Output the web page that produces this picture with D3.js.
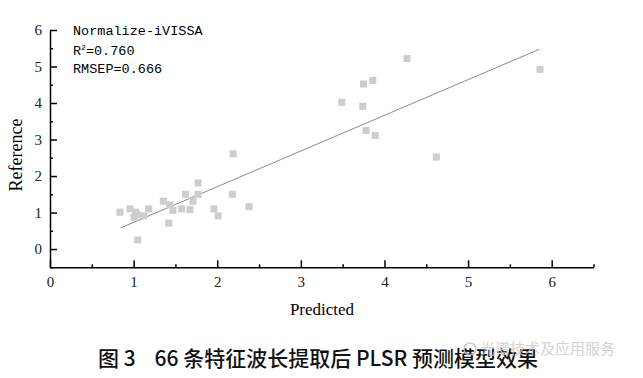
<!DOCTYPE html>
<meta charset="utf-8">
<head>
  <title>PLSR predicted vs reference</title>
</head>
<style>
  body { margin: 0; background: #fff; }
  .tick text { font-family: "Liberation Serif", serif; font-size: 15px; fill: #222; }
  .axis path, .axis line { stroke: #000; stroke-width: 1.5; }
</style>
<body>
<svg width="643" height="378"></svg>
<script src="https://cdn.jsdelivr.net/npm/d3@7"></script>
<script>

// measured points (predicted, reference)
var predicted = [4.27, 5.86, 3.75, 3.86, 3.49, 3.74, 3.78, 3.89, 4.62,
                 2.19, 1.77, 1.62, 1.77, 2.18, 2.38, 1.355, 1.71, 1.43, 1.47,
                 1.575, 1.675, 1.96, 2.01, 1.42, 1.18, 1.12, 0.957, 0.837,
                 1.025, 1.005, 1.04, 1.05];
var reference = [5.22, 4.92, 4.52, 4.62, 4.02, 3.91, 3.25, 3.11, 2.52,
                 2.61, 1.81, 1.50, 1.50, 1.50, 1.16, 1.31, 1.31, 1.21, 1.06,
                 1.10, 1.08, 1.10, 0.91, 0.71, 1.10, 0.91, 1.10, 1.01,
                 1.01, 0.87, 0.95, 0.25];

// fitted line end points
var fitX = [0.845, 5.85];
var fitY = [0.58, 5.47];

var xMajor = [0, 1, 2, 3, 4, 5, 6];
var xMinor = [0.5, 1.5, 2.5, 3.5, 4.5, 5.5, 6.5];
var yMajor = [0, 1, 2, 3, 4, 5, 6];
var yMinor = [-0.5, 0.5, 1.5, 2.5, 3.5, 4.5, 5.5];

var notes = ["Normalize-iVISSA", "R", "RMSEP=0.666"];

svg = d3.select("svg");

var x = d3.scaleLinear().domain([0, 6.5]).range([50, 593.5]);
var y = d3.scaleLinear().domain([-0.5, 6]).range([267.3, 30]);

// x axis
svg.append("g").attr("class", "axis")
  .attr("transform", "translate(0,267.3)")
  .call(d3.axisBottom(x).tickValues(xMinor).tickSizeInner(-3).tickSizeOuter(0).tickFormat(""));
svg.append("g").attr("class", "axis")
  .attr("transform", "translate(0,267.3)")
  .call(d3.axisBottom(x).tickValues(xMajor).tickSizeInner(-7).tickSizeOuter(0).tickPadding(9).tickFormat(d3.format("d")))
  .select(".domain").remove();

// y axis
svg.append("g").attr("class", "axis")
  .attr("transform", "translate(50,0)")
  .call(d3.axisLeft(y).tickValues(yMinor).tickSizeInner(-3).tickSizeOuter(0).tickFormat(""));
svg.append("g").attr("class", "axis")
  .attr("transform", "translate(50,0)")
  .call(d3.axisLeft(y).tickValues(yMajor).tickSizeInner(-7).tickSizeOuter(0).tickPadding(8).tickFormat(d3.format("d")))
  .select(".domain").remove();

// fit line
svg.append("line")
  .attr("x1", x(fitX[0])).attr("y1", y(fitY[0]))
  .attr("x2", x(fitX[1])).attr("y2", y(fitY[1]))
  .attr("stroke", "#8a8a8a").attr("stroke-width", 1);

// points
var pts = predicted.map(function(d, i) { return {p: d, r: reference[i]}; });
svg.selectAll("rect.pt")
  .data(pts)
  .enter().append("rect")
  .attr("class", "pt")
  .attr("x", function(d) { return x(d.p) - 3.5; })
  .attr("y", function(d) { return y(d.r) - 3.5; })
  .attr("width", 7).attr("height", 7)
  .attr("fill", "#cdcdcd");

// annotation
var mono = "'Liberation Mono', monospace";
svg.append("text").attr("x", 73).attr("y", 35)
  .style("font-family", mono).style("font-size", "13.5px").text(notes[0]);
var r2 = svg.append("text").attr("x", 73).attr("y", 54.5)
  .style("font-family", mono).style("font-size", "13.5px");
r2.append("tspan").text(notes[1]);
r2.append("tspan").attr("dy", -5).style("font-size", "8px").text("2");
r2.append("tspan").attr("dy", 5).text("=0.760");
svg.append("text").attr("x", 73).attr("y", 73)
  .style("font-family", mono).style("font-size", "13.5px").text(notes[2]);

// axis titles
svg.append("text")
  .attr("transform", "translate(22,155) rotate(-90)")
  .attr("text-anchor", "middle")
  .style("font-family", "'Liberation Serif', serif").style("font-size", "18px")
  .text("Reference");
svg.append("text")
  .attr("x", 322).attr("y", 315)
  .attr("text-anchor", "middle")
  .style("font-family", "'Liberation Serif', serif").style("font-size", "17px")
  .text("Predicted");

// caption
svg.append("text")
  .attr("x", 318).attr("y", 366)
  .attr("text-anchor", "middle")
  .style("font-family", "'Noto Sans CJK SC', sans-serif").style("font-size", "21px")
  .style("font-weight", "500").attr("fill", "#111")
  .text("图 3\u00A0\u00A0\u00A0 66 条特征波长提取后 PLSR 预测模型效果");

// watermark
svg.append("circle").attr("cx", 470).attr("cy", 349).attr("r", 6)
  .attr("fill", "none").attr("stroke", "#bbb").attr("stroke-width", 1.2);
svg.append("text")
  .attr("x", 480).attr("y", 354)
  .style("font-family", "'Noto Sans CJK SC', sans-serif").style("font-size", "15px")
  .attr("fill", "#ccc").attr("opacity", 0.85)
  .text("光谱技术及应用服务");

</script>
</body>
</html>
